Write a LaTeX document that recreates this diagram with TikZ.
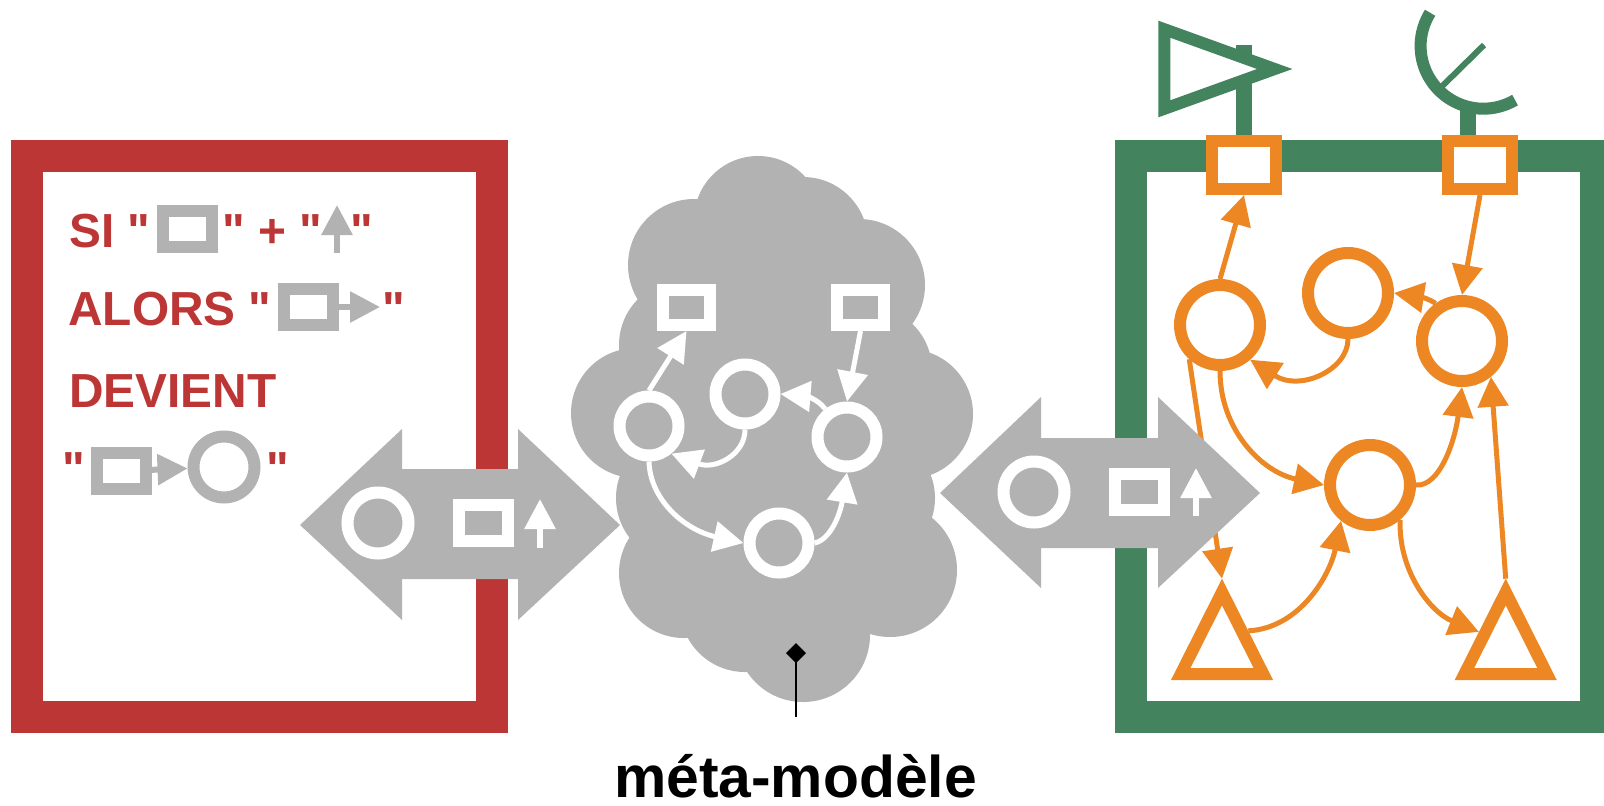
\documentclass[tikz,border=0pt]{standalone}
\usepackage{fontspec}
\setmainfont{Liberation Sans}[Ligatures=TeXOff]
\usepackage{tikz}
\usetikzlibrary{arrows.meta,calc,shapes.geometric}
\definecolor{framered}{HTML}{BB3634}
\definecolor{framegreen}{HTML}{43835D}
\definecolor{tokenorange}{HTML}{EC8724}
\definecolor{cloudgray}{HTML}{B2B2B2}
\tikzset{
    frame/.style={draw, rectangle, line width=16pt, minimum width=232.5pt, minimum height=280.5pt},
    ringnode/.style={draw, circle, line width=6pt, minimum size=30.5pt},
    blocknode/.style={draw, rectangle, line width=6pt, minimum width=24.5pt, minimum height=18pt},
    bigring/.style={draw=tokenorange, fill=white, circle, line width=6pt, minimum size=40pt},
    bigblock/.style={draw=tokenorange, fill=white, rectangle, line width=6pt, minimum width=32pt, minimum height=24pt},
    trinode/.style={draw=tokenorange, fill=white, isosceles triangle, isosceles triangle apex angle=53.5,
        isosceles triangle stretches, shape border rotate=90, line width=6pt,
        minimum width=41.3pt, minimum height=41pt, anchor=lower side},
    rule/.style={line width=2.5pt, -{Triangle[length=15pt,width=15pt]}},
    glyphtip/.style={line width=3pt, -{Triangle[length=15pt,width=15pt]}},
    redtext/.style={text=framered, anchor=base west, font=\fontsize{23.9}{28}\selectfont\bfseries}
}
\begin{document}
\begin{tikzpicture}[x=0.5pt,y=0.5pt]
        \tikzstyle{every node}+=[inner sep=0pt]
        \useasboundingbox (0,0) rectangle (1604,-805);
        \clip (0,0) rectangle (1604,-805);
        \node [frame, draw=framegreen] (rightbox) at (1363.5,-436.5) {};
        \node [frame, draw=framered] (leftbox) at (259.5,-436.5) {};
        \fill [framegreen] (1236,-45) rectangle (1252,-135);
        \fill [framegreen] (1460,-107) rectangle (1476,-135);
        \draw [framegreen, fill=white, line width=6pt] (1164.3,-29.2) -- (1274.7,-69) -- (1164.3,-108.8) -- cycle;
        \draw [framegreen, line width=6pt] (1483.3,-46) ++(148:62.7) arc [start angle=148, end angle=300.4, radius=62.7];
        \draw [framegreen, line width=3pt] (1442.3,-86) -- (1484,-45);
        \node [bigblock] (port1) at (1244,-165) {};
        \node [bigblock] (port2) at (1480,-165) {};
        \node [bigring] (place1) at (1220,-325) {};
        \node [bigring] (place2) at (1348,-293) {};
        \node [bigring] (place3) at (1462,-341) {};
        \node [bigring] (place4) at (1370,-485) {};
        \node [trinode] (tri1) at (1222,-680) {};
        \node [trinode] (tri2) at (1505.7,-680) {};
        \draw [rule, tokenorange] (place1.north) -- (port1.south);
        \draw [rule, tokenorange] (port2.south) -- (place3.north);
        \draw [rule, tokenorange] (place2.south) .. controls (1348,-370) and (1300,-392) .. (place1.-49.5);
        \draw [rule, tokenorange] (place3.125) .. controls (1425,-297) and (1420,-297) .. (place2.east);
        \draw [rule, tokenorange] (place1.-132) -- (tri1.apex);
        \draw [rule, tokenorange] (place1.south) .. controls (1220,-430) and (1262,-472) .. (place4.west);
        \draw [rule, tokenorange] (place4.east) .. controls (1440,-487) and (1455,-440) .. (place3.south);
        \draw [rule, tokenorange] ($(tri1.apex)!.515!(tri1.right corner)$) .. controls (1300,-628) and (1330,-575) .. (place4.-129);
        \draw [rule, tokenorange] (place4.-49) .. controls (1398,-570) and (1430,-612) .. ($(tri2.apex)!.525!(tri2.left corner)$);
        \draw [rule, tokenorange] (tri2.apex) -- (place3.-51);
        \fill [cloudgray] (705,-221) -- (805,-202) -- (856,-240) -- (899,-334) -- (915,-360) -- (914,-470) -- (917,-510) -- (860,-614) -- (751,-647) -- (697,-616) -- (645,-524) -- (634,-471) -- (635,-358) -- (651,-314) -- cycle;
        \foreach \cx/\cy/\cr in {758/220/64, 803/242/65, 859/285/66, 868/370/64, 908/414/65, 872/498/63, 890/570/67, 803/635/67, 745/607/65, 684/573/65, 681/498/65, 636/413/65, 684/345/65, 694/265/66}
            \fill [cloudgray] (\cx,-\cy) circle (\cr);
        \draw [black, line width=1.2pt] (796,-653) -- (796,-717);
        \fill [black] (796,-643) -- (806,-653) -- (796,-663) -- (786,-653) -- cycle;
        \node [anchor=base, font=\fontsize{29.4}{34}\selectfont\bfseries] (metalabel) at (795.5,-797) {méta-modèle};
        \node [ringnode, draw=white, minimum size=29.5pt] (cplace1) at (649,-426) {};
        \node [ringnode, draw=white, minimum size=29.5pt] (cplace2) at (745,-394) {};
        \node [ringnode, draw=white, minimum size=29.5pt] (cplace3) at (847,-437) {};
        \node [ringnode, draw=white, minimum size=29.5pt] (cplace4) at (779,-543) {};
        \node [blocknode, draw=white, minimum width=23.5pt, minimum height=17.5pt] (cport1) at (686.5,-307.5) {};
        \node [blocknode, draw=white, minimum width=23.5pt, minimum height=17.5pt] (cport2) at (860.5,-307.5) {};
        \draw [rule, white] (cplace1.north) -- (cport1.south);
        \draw [rule, white] (cport2.south) -- (cplace3.north);
        \draw [rule, white] (cplace2.south) .. controls (745,-455) and (715,-470) .. (cplace1.-51);
        \draw [rule, white] (cplace3.128) .. controls (818,-399) and (805,-396) .. (cplace2.east);
        \draw [rule, white] (cplace1.south) .. controls (650,-500) and (685,-530) .. (cplace4.west);
        \draw [rule, white] (cplace4.east) .. controls (830,-540) and (840,-515) .. (cplace3.south);
        \fill [cloudgray] (300,-525) -- (402,-429) -- (402,-469) -- (518,-469) -- (518,-429) -- (620,-525) -- (518,-620) -- (518,-579) -- (402,-579) -- (402,-620) -- cycle;
        \fill [cloudgray] (940,-493) -- (1041,-397) -- (1041,-438) -- (1158,-438) -- (1158,-397) -- (1260,-493) -- (1158,-588) -- (1158,-548) -- (1041,-548) -- (1041,-588) -- cycle;
        \node [ringnode, draw=white] (lring) at (378,-523) {};
        \node [blocknode, draw=white] (lblock) at (483.5,-523) {};
        \coordinate (lfoot) at (540,-548);
        \coordinate (lhead) at (540,-499);
        \draw [glyphtip, white] (lfoot) -- (lhead);
        \node [ringnode, draw=white] (rring) at (1034,-492) {};
        \node [blocknode, draw=white] (rblock) at (1139.5,-491.5) {};
        \coordinate (rfoot) at (1196,-516);
        \coordinate (rhead) at (1196,-468);
        \draw [glyphtip, white] (rfoot) -- (rhead);
        \node [redtext] (si) at (69,-247) {SI "};
        \node [blocknode, draw=cloudgray, fill=white] (sblock) at (187.5,-229) {};
        \node [redtext] (plus) at (222,-247) {" + "};
        \coordinate (sfoot) at (337,-253);
        \coordinate (shead) at (337,-205);
        \draw [glyphtip, cloudgray] (sfoot) -- (shead);
        \node [redtext] (sclose) at (350,-247) {"};
        \node [redtext] (alors) at (68,-325) {ALORS "};
        \node [blocknode, draw=cloudgray, fill=white] (ablock) at (308.5,-307) {};
        \coordinate (ahead) at (380,-307);
        \draw [glyphtip, cloudgray] (ablock.east) -- (ahead);
        \node [redtext] (aclose) at (382,-325) {"};
        \node [redtext] (devient) at (69,-407) {DEVIENT};
        \node [redtext] (dopen) at (62,-485) {"};
        \node [blocknode, draw=cloudgray, fill=white] (dblock) at (121.5,-471) {};
        \node [ringnode, draw=cloudgray] (dring) at (224,-467) {};
        \draw [glyphtip, cloudgray] (dblock) -- (dring);
        \node [redtext] (dclose) at (266,-485) {"};
\end{tikzpicture}
\end{document}
